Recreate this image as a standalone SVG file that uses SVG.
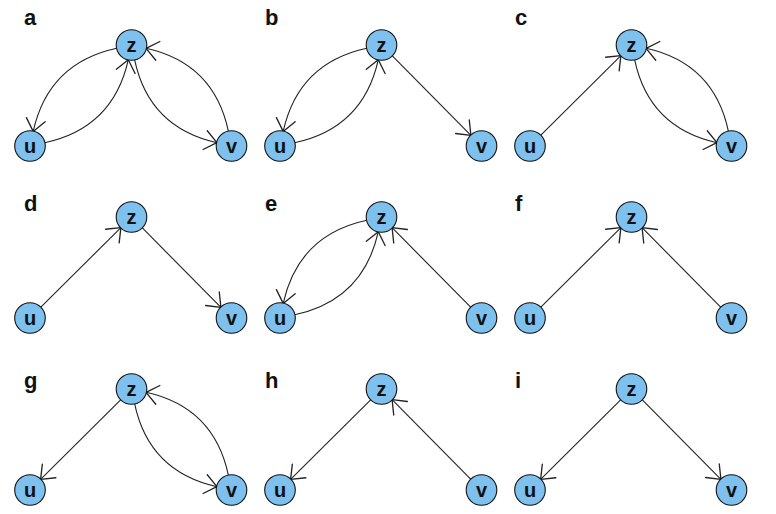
<svg xmlns="http://www.w3.org/2000/svg" width="776" height="514" viewBox="0 0 776 514">
<defs>
<style>
.node circle{fill:#7EC0EE;stroke:#111;stroke-width:1.1}
.node text{font-family:"Liberation Sans",Arial,sans-serif;font-weight:bold;font-size:20px;text-anchor:middle;fill:#111}
.edge{fill:none;stroke:#222;stroke-width:1.1;marker-end:url(#arr)}
.plabel{font-family:"Liberation Sans",Arial,sans-serif;font-weight:bold;font-size:22px;fill:#111}
</style>
<marker id="arr" markerUnits="userSpaceOnUse" markerWidth="24" markerHeight="24" viewBox="-12 -10 14 20" refX="0" refY="0" orient="auto" overflow="visible">
<path d="M-10,-8 L0,0 L-10,8" fill="none" stroke="#222" stroke-width="1.1" stroke-linejoin="round" stroke-linecap="round"/>
</marker>
</defs>
<rect width="776" height="514" fill="#fff"/>
<g id="labels">
<text class="plabel" x="24" y="25">a</text>
<text class="plabel" x="265" y="25">b</text>
<text class="plabel" x="515" y="25">c</text>
<text class="plabel" x="24" y="211">d</text>
<text class="plabel" x="265" y="211">e</text>
<text class="plabel" x="515" y="211">f</text>
<text class="plabel" x="24" y="388">g</text>
<text class="plabel" x="265" y="388">h</text>
<text class="plabel" x="515" y="388">i</text>
</g>
<g id="connectors">
<g transform="translate(0,0)">
<path class="edge" d="M116.8,48.2 Q48.35,62.9 33.2,131.4"/>
<path class="edge" d="M44.7,142.8 Q113.2,128.1 128.3,59.7"/>
<path class="edge" d="M134.6,59.7 Q149,127.7 216.9,142.7"/>
<path class="edge" d="M228.4,131.3 Q214,63.3 146.1,48.3"/>
</g>
<g transform="translate(250,0)">
<path class="edge" d="M116.8,48.2 Q48.35,62.9 33.2,131.4"/>
<path class="edge" d="M44.7,142.8 Q113.2,128.1 128.3,59.7"/>
<path class="edge" d="M142.1,55.7 L220.9,135.3"/>
</g>
<g transform="translate(500,0)">
<path class="edge" d="M40.6,135.4 L120.9,55.6"/>
<path class="edge" d="M134.6,59.7 Q149,127.7 216.9,142.7"/>
<path class="edge" d="M228.4,131.3 Q214,63.3 146.1,48.3"/>
</g>
<g transform="translate(0,172)">
<path class="edge" d="M40.6,135.4 L120.9,55.6"/>
<path class="edge" d="M142.1,55.7 L220.9,135.3"/>
</g>
<g transform="translate(250,172)">
<path class="edge" d="M116.8,48.2 Q48.35,62.9 33.2,131.4"/>
<path class="edge" d="M44.7,142.8 Q113.2,128.1 128.3,59.7"/>
<path class="edge" d="M220.9,135.3 L142.1,55.7"/>
</g>
<g transform="translate(500,172)">
<path class="edge" d="M40.6,135.4 L120.9,55.6"/>
<path class="edge" d="M220.9,135.3 L142.1,55.7"/>
</g>
<g transform="translate(0,344)">
<path class="edge" d="M120.9,55.6 L40.6,135.4"/>
<path class="edge" d="M134.6,59.7 Q149,127.7 216.9,142.7"/>
<path class="edge" d="M228.4,131.3 Q214,63.3 146.1,48.3"/>
</g>
<g transform="translate(250,344)">
<path class="edge" d="M120.9,55.6 L40.6,135.4"/>
<path class="edge" d="M220.9,135.3 L142.1,55.7"/>
</g>
<g transform="translate(500,344)">
<path class="edge" d="M120.9,55.6 L40.6,135.4"/>
<path class="edge" d="M142.1,55.7 L220.9,135.3"/>
</g>
</g>
<g id="nodes">
<g transform="translate(0,0)">
<g id="a-z" class="node"><circle cx="131.5" cy="45" r="15.3"/><text x="131.5" y="52">z</text></g>
<g id="a-u" class="node"><circle cx="30" cy="146" r="15.3"/><text x="30" y="153">u</text></g>
<g id="a-v" class="node"><circle cx="231.5" cy="146" r="15.3"/><text x="231.5" y="153">v</text></g>
</g>
<g transform="translate(250,0)">
<g id="b-z" class="node"><circle cx="131.5" cy="45" r="15.3"/><text x="131.5" y="52">z</text></g>
<g id="b-u" class="node"><circle cx="30" cy="146" r="15.3"/><text x="30" y="153">u</text></g>
<g id="b-v" class="node"><circle cx="231.5" cy="146" r="15.3"/><text x="231.5" y="153">v</text></g>
</g>
<g transform="translate(500,0)">
<g id="c-z" class="node"><circle cx="131.5" cy="45" r="15.3"/><text x="131.5" y="52">z</text></g>
<g id="c-u" class="node"><circle cx="30" cy="146" r="15.3"/><text x="30" y="153">u</text></g>
<g id="c-v" class="node"><circle cx="231.5" cy="146" r="15.3"/><text x="231.5" y="153">v</text></g>
</g>
<g transform="translate(0,172)">
<g id="d-z" class="node"><circle cx="131.5" cy="45" r="15.3"/><text x="131.5" y="52">z</text></g>
<g id="d-u" class="node"><circle cx="30" cy="146" r="15.3"/><text x="30" y="153">u</text></g>
<g id="d-v" class="node"><circle cx="231.5" cy="146" r="15.3"/><text x="231.5" y="153">v</text></g>
</g>
<g transform="translate(250,172)">
<g id="e-z" class="node"><circle cx="131.5" cy="45" r="15.3"/><text x="131.5" y="52">z</text></g>
<g id="e-u" class="node"><circle cx="30" cy="146" r="15.3"/><text x="30" y="153">u</text></g>
<g id="e-v" class="node"><circle cx="231.5" cy="146" r="15.3"/><text x="231.5" y="153">v</text></g>
</g>
<g transform="translate(500,172)">
<g id="f-z" class="node"><circle cx="131.5" cy="45" r="15.3"/><text x="131.5" y="52">z</text></g>
<g id="f-u" class="node"><circle cx="30" cy="146" r="15.3"/><text x="30" y="153">u</text></g>
<g id="f-v" class="node"><circle cx="231.5" cy="146" r="15.3"/><text x="231.5" y="153">v</text></g>
</g>
<g transform="translate(0,344)">
<g id="g-z" class="node"><circle cx="131.5" cy="45" r="15.3"/><text x="131.5" y="52">z</text></g>
<g id="g-u" class="node"><circle cx="30" cy="146" r="15.3"/><text x="30" y="153">u</text></g>
<g id="g-v" class="node"><circle cx="231.5" cy="146" r="15.3"/><text x="231.5" y="153">v</text></g>
</g>
<g transform="translate(250,344)">
<g id="h-z" class="node"><circle cx="131.5" cy="45" r="15.3"/><text x="131.5" y="52">z</text></g>
<g id="h-u" class="node"><circle cx="30" cy="146" r="15.3"/><text x="30" y="153">u</text></g>
<g id="h-v" class="node"><circle cx="231.5" cy="146" r="15.3"/><text x="231.5" y="153">v</text></g>
</g>
<g transform="translate(500,344)">
<g id="i-z" class="node"><circle cx="131.5" cy="45" r="15.3"/><text x="131.5" y="52">z</text></g>
<g id="i-u" class="node"><circle cx="30" cy="146" r="15.3"/><text x="30" y="153">u</text></g>
<g id="i-v" class="node"><circle cx="231.5" cy="146" r="15.3"/><text x="231.5" y="153">v</text></g>
</g>
</g>
</svg>
